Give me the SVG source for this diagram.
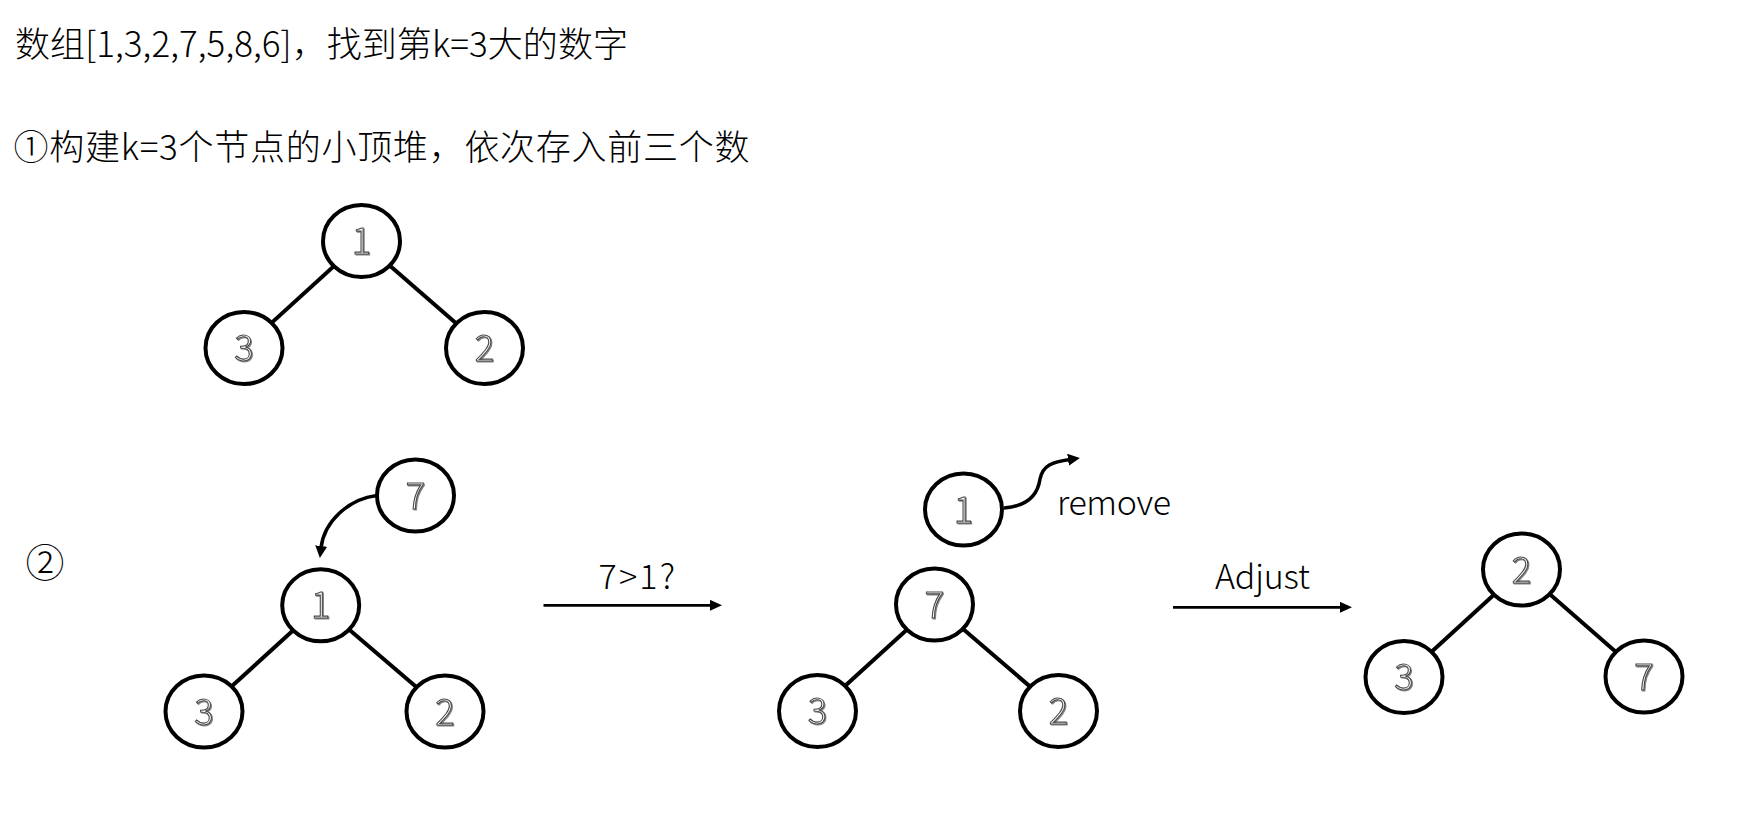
<svg xmlns="http://www.w3.org/2000/svg" width="1748" height="815" viewBox="0 0 1748 815">
<style>
text{font-family:"Noto Sans CJK SC","Noto Sans",sans-serif;fill:#000;font-weight:300}
.t{font-size:35px}
.lab{font-size:34px}
.n ellipse{fill:#fff;stroke:#000;stroke-width:4}
.d{font-size:36px;text-anchor:middle;fill:#fff;stroke:#4a4a4a;stroke-width:1.1;filter:url(#sh)}
.e{stroke:#000;stroke-width:4;fill:none}
.a{stroke:#000;stroke-width:2.8;fill:none;marker-end:url(#ah)}
.c{stroke:#000;stroke-width:3.5;fill:none;marker-end:url(#ah2)}
</style>
<defs>
<filter id="sh" x="-30%" y="-30%" width="160%" height="160%">
<feDropShadow dx="1" dy="1" stdDeviation="0.6" flood-color="#777" flood-opacity="0.9"/>
</filter>
<marker id="ah" markerUnits="userSpaceOnUse" markerWidth="14" markerHeight="12" refX="2" refY="5.5" orient="auto">
<path d="M0,0 L12,5.5 L0,11 z" fill="#000"/>
</marker>
<marker id="ah2" markerUnits="userSpaceOnUse" markerWidth="14" markerHeight="14" refX="2" refY="6" orient="auto">
<path d="M0,0 L12,6 L0,12 z" fill="#000"/>
</marker>
</defs>
<rect width="1748" height="815" fill="#fff"/>

<g id="title">
<text class="t" x="15" y="56.5" textLength="613" lengthAdjust="spacing">数组[1,3,2,7,5,8,6]，找到第k=3大的数字</text>
<text class="t" x="13.5" y="160" textLength="736" lengthAdjust="spacing">①构建k=3个节点的小顶堆，依次存入前三个数</text>
<text x="25.5" y="577" style="font-size:39px">②</text>
</g>

<g id="connectors">
<line class="e" x1="361.5" y1="241" x2="244" y2="348"/>
<line class="e" x1="361.5" y1="241" x2="484.5" y2="348"/>
<line class="e" x1="320.7" y1="605.3" x2="204" y2="711.5"/>
<line class="e" x1="320.7" y1="605.3" x2="445" y2="711.5"/>
<line class="e" x1="934.5" y1="604.5" x2="817.5" y2="711"/>
<line class="e" x1="934.5" y1="604.5" x2="1058.5" y2="711"/>
<line class="e" x1="1521.5" y1="569.5" x2="1404" y2="677"/>
<line class="e" x1="1521.5" y1="569.5" x2="1644" y2="676.5"/>
<path class="c" d="M377,495.5 C348,499 324,522 321,548"/>
<path class="c" d="M1004,508 C1030,506 1038,493 1040,479 C1043,465 1052,462 1070,459.5"/>
<line class="a" x1="543.5" y1="605.3" x2="712" y2="605.3"/>
<line class="a" x1="1173" y1="607.3" x2="1342" y2="607.3"/>
</g>

<g id="labels">
<text class="lab" x="598.5" y="589.3" textLength="76.5" lengthAdjust="spacing">7&gt;1?</text>
<text class="lab" x="1057" y="515" textLength="114" lengthAdjust="spacing">remove</text>
<text class="lab" x="1215" y="589.3" textLength="95" lengthAdjust="spacing">Adjust</text>
</g>

<g id="node-a1" class="n"><ellipse cx="361.5" cy="241" rx="38.5" ry="36"/><text class="d" x="361.5" y="254">1</text></g>
<g id="node-a3" class="n"><ellipse cx="244" cy="348" rx="38.5" ry="36"/><text class="d" x="244" y="361">3</text></g>
<g id="node-a2" class="n"><ellipse cx="484.5" cy="348" rx="38.5" ry="36"/><text class="d" x="484.5" y="361">2</text></g>

<g id="node-b7" class="n"><ellipse cx="415.5" cy="495.5" rx="38.5" ry="36"/><text class="d" x="415.5" y="508.5">7</text></g>
<g id="node-b1" class="n"><ellipse cx="320.7" cy="605.3" rx="38.5" ry="36"/><text class="d" x="320.7" y="618.3">1</text></g>
<g id="node-b3" class="n"><ellipse cx="204" cy="711.5" rx="38.5" ry="36"/><text class="d" x="204" y="724.5">3</text></g>
<g id="node-b2" class="n"><ellipse cx="445" cy="711.5" rx="38.5" ry="36"/><text class="d" x="445" y="724.5">2</text></g>

<g id="node-c1" class="n"><ellipse cx="963.5" cy="509.5" rx="38.5" ry="36"/><text class="d" x="963.5" y="522.5">1</text></g>
<g id="node-c7" class="n"><ellipse cx="934.5" cy="604.5" rx="38.5" ry="36"/><text class="d" x="934.5" y="617.5">7</text></g>
<g id="node-c3" class="n"><ellipse cx="817.5" cy="711" rx="38.5" ry="36"/><text class="d" x="817.5" y="724">3</text></g>
<g id="node-c2" class="n"><ellipse cx="1058.5" cy="711" rx="38.5" ry="36"/><text class="d" x="1058.5" y="724">2</text></g>

<g id="node-d2" class="n"><ellipse cx="1521.5" cy="569.5" rx="38.5" ry="36"/><text class="d" x="1521.5" y="582.5">2</text></g>
<g id="node-d3" class="n"><ellipse cx="1404" cy="677" rx="38.5" ry="36"/><text class="d" x="1404" y="690">3</text></g>
<g id="node-d7" class="n"><ellipse cx="1644" cy="676.5" rx="38.5" ry="36"/><text class="d" x="1644" y="689.5">7</text></g>
</svg>
